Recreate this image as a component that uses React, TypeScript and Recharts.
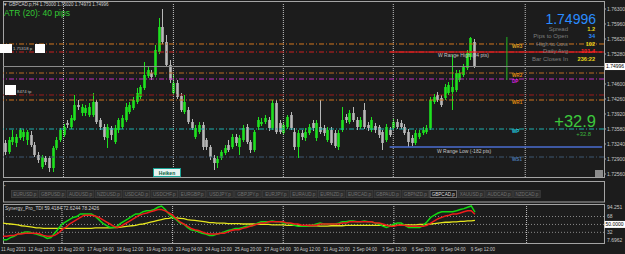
import React from "react";
import { ComposedChart, Bar, Line, XAxis, YAxis, ReferenceLine } from "recharts";

// GBPCAD.p H4 heiken ashi candles, 11 Aug 08:00 .. 9 Sep 16:00
const opens = [
  1.73263, 1.73059, 1.73285, 1.73263, 1.73376, 1.73399, 1.73331, 1.73444, 1.73217, 1.72991,
  1.72719, 1.72923, 1.72923, 1.72696, 1.73149, 1.73331, 1.73444, 1.73716, 1.73625, 1.73784,
  1.74124, 1.73943, 1.73943, 1.73897, 1.73897, 1.74192, 1.73784, 1.73625, 1.73376, 1.73603,
  1.73285, 1.73557, 1.73625, 1.73784, 1.73965, 1.74056, 1.74192, 1.74305, 1.74509, 1.74781,
  1.74849, 1.74804, 1.75325, 1.75892, 1.75552, 1.75031, 1.74396, 1.74623, 1.74328, 1.73965,
  1.74011, 1.73739, 1.73399, 1.73512, 1.73671, 1.73331, 1.73172, 1.72923, 1.72809, 1.72923,
  1.73036, 1.73217, 1.73172, 1.73399, 1.73172, 1.73331, 1.73625, 1.73285, 1.73104, 1.73625,
  1.73693, 1.73739, 1.73784, 1.73603, 1.74169, 1.73716, 1.73489, 1.73625, 1.73897, 1.73512,
  1.73172, 1.73489, 1.73376, 1.73489, 1.73716, 1.73376, 1.73625, 1.73603, 1.73331, 1.73557,
  1.73489, 1.73172, 1.73557, 1.73852, 1.73739, 1.73943, 1.73784, 1.73625, 1.74011, 1.73671,
  1.73557, 1.73648, 1.73625, 1.73512, 1.73331, 1.73557, 1.73603, 1.73739, 1.73716, 1.73625,
  1.73512, 1.73376, 1.73263, 1.73399, 1.73489, 1.73512, 1.73603, 1.74192, 1.74351, 1.74283,
  1.74283, 1.74396, 1.74419, 1.74464, 1.74691, 1.74804, 1.74963, 1.75212, 1.75552,
];
const highs = [
  1.73331, 1.73399, 1.73557, 1.73467, 1.73603, 1.7358, 1.73557, 1.73535, 1.73285, 1.73059,
  1.72991, 1.72968, 1.72968, 1.73195, 1.73399, 1.73603, 1.73693, 1.73784, 1.73897, 1.74351,
  1.74237, 1.74147, 1.74124, 1.74169, 1.74396, 1.74237, 1.73829, 1.73693, 1.73693, 1.73648,
  1.73671, 1.73829, 1.73897, 1.74169, 1.74192, 1.74305, 1.74509, 1.74577, 1.75099, 1.74985,
  1.74917, 1.75484, 1.76096, 1.763, 1.75711, 1.75144, 1.74804, 1.74691, 1.74396, 1.74351,
  1.74079, 1.73807, 1.73671, 1.73739, 1.73739, 1.73376, 1.73217, 1.72991, 1.72968, 1.73104,
  1.73217, 1.73331, 1.73467, 1.73467, 1.73444, 1.73671, 1.73693, 1.73331, 1.73557, 1.73852,
  1.73829, 1.73897, 1.73852, 1.74237, 1.74237, 1.73784, 1.73739, 1.73897, 1.73965, 1.73603,
  1.73557, 1.73557, 1.73603, 1.73693, 1.73784, 1.73784, 1.74237, 1.73671, 1.73625, 1.73625,
  1.73557, 1.73557, 1.74079, 1.7392, 1.74011, 1.74079, 1.73852, 1.73852, 1.74169, 1.73739,
  1.73852, 1.73716, 1.73671, 1.73557, 1.73693, 1.73625, 1.73807, 1.73807, 1.73784, 1.73693,
  1.7358, 1.73444, 1.73557, 1.73557, 1.73625, 1.73671, 1.74305, 1.74373, 1.74419, 1.74351,
  1.746, 1.74645, 1.75257, 1.74917, 1.74917, 1.75053, 1.75371, 1.75665, 1.7562,
];
const lows = [
  1.72991, 1.73013, 1.73217, 1.73172, 1.73331, 1.73308, 1.73217, 1.73172, 1.72945, 1.72809,
  1.72673, 1.72764, 1.72605, 1.72605, 1.73104, 1.73285, 1.73399, 1.73603, 1.7358, 1.73761,
  1.74011, 1.73875, 1.73875, 1.73852, 1.73852, 1.73693, 1.73557, 1.73331, 1.73149, 1.73331,
  1.7324, 1.73489, 1.7358, 1.73739, 1.7392, 1.74011, 1.74147, 1.7426, 1.74464, 1.74736,
  1.74691, 1.74759, 1.7528, 1.75507, 1.74985, 1.74623, 1.74351, 1.7426, 1.73965, 1.7392,
  1.73693, 1.73557, 1.73353, 1.73467, 1.73104, 1.73104, 1.72877, 1.72651, 1.72696, 1.72877,
  1.72991, 1.73059, 1.73127, 1.73195, 1.72991, 1.73285, 1.7324, 1.73036, 1.73059, 1.73557,
  1.73648, 1.73693, 1.73535, 1.73557, 1.73467, 1.73467, 1.73444, 1.7358, 1.73557, 1.73104,
  1.72923, 1.73331, 1.73308, 1.73444, 1.73535, 1.73308, 1.73467, 1.73421, 1.73285, 1.73217,
  1.73149, 1.73104, 1.73512, 1.73716, 1.73693, 1.73739, 1.73557, 1.7358, 1.7358, 1.73535,
  1.73512, 1.73489, 1.73376, 1.73104, 1.73285, 1.73399, 1.73557, 1.7358, 1.7358, 1.73444,
  1.73172, 1.73195, 1.73217, 1.73353, 1.73444, 1.73467, 1.73557, 1.74147, 1.74192, 1.74079,
  1.74237, 1.74351, 1.74011, 1.74419, 1.74645, 1.74759, 1.74917, 1.75144, 1.74963,
];
const closes = [
  1.73059, 1.73331, 1.73399, 1.73399, 1.73557, 1.73512, 1.73512, 1.73217, 1.72991, 1.72877,
  1.72945, 1.72832, 1.72696, 1.73149, 1.73331, 1.73557, 1.73625, 1.73671, 1.73829, 1.74124,
  1.74079, 1.74079, 1.74056, 1.74079, 1.74192, 1.73739, 1.73625, 1.73399, 1.73625, 1.73444,
  1.73603, 1.73784, 1.73829, 1.74079, 1.74124, 1.74237, 1.74396, 1.74532, 1.74804, 1.74917,
  1.74759, 1.75371, 1.75892, 1.75552, 1.75031, 1.74691, 1.74623, 1.74305, 1.74011, 1.74192,
  1.73739, 1.73603, 1.73603, 1.73671, 1.73172, 1.73172, 1.72945, 1.72809, 1.729, 1.73059,
  1.73149, 1.73104, 1.73399, 1.73263, 1.73376, 1.73603, 1.73285, 1.73104, 1.73512, 1.73784,
  1.73739, 1.73829, 1.73603, 1.74169, 1.73512, 1.73512, 1.73671, 1.73852, 1.73603, 1.73172,
  1.73489, 1.73399, 1.73512, 1.73625, 1.73603, 1.73716, 1.73512, 1.73489, 1.73557, 1.73263,
  1.73195, 1.73489, 1.73784, 1.73784, 1.73943, 1.73784, 1.73625, 1.73784, 1.73625, 1.73603,
  1.73784, 1.73557, 1.73444, 1.73263, 1.73625, 1.73444, 1.73739, 1.73625, 1.73625, 1.73489,
  1.73285, 1.73263, 1.73489, 1.73489, 1.73557, 1.73603, 1.74237, 1.74305, 1.74237, 1.74124,
  1.74532, 1.74577, 1.74532, 1.74849, 1.74849, 1.74985, 1.75303, 1.75643, 1.74996,
];

// Synergy_Pro_TDI lines
const tdiPrice = [
  15, 15, 20, 23, 28, 30, 33, 33, 30, 28, 25, 23, 18, 20, 30, 40, 51, 56, 61, 66,
  68, 74, 74, 74, 74, 69, 61, 53, 48, 43, 43, 46, 53, 58, 63, 69, 74, 74, 79, 81,
  81, 84, 89, 92, 84, 74, 66, 61, 53, 51, 43, 38, 36, 33, 30, 28, 25, 25, 28, 30,
  33, 36, 38, 41, 41, 43, 46, 46, 48, 53, 56, 56, 56, 58, 56, 56, 53, 53, 51, 48,
  46, 46, 46, 48, 48, 51, 53, 51, 51, 51, 51, 53, 56, 56, 58, 58, 56, 56, 58, 56,
  56, 53, 51, 46, 43, 46, 51, 53, 53, 48, 43, 43, 43, 43, 48, 56, 66, 71, 76, 79,
  79, 79, 79, 81, 84, 86, 89, 92, 78,
];
const tdiSignal = [
  23, 23, 25, 25, 28, 28, 30, 30, 30, 30, 28, 25, 23, 23, 25, 30, 38, 43, 51, 56,
  61, 66, 71, 71, 71, 69, 66, 61, 56, 51, 46, 43, 46, 51, 56, 61, 66, 71, 74, 76,
  79, 81, 84, 84, 81, 76, 71, 63, 56, 51, 46, 41, 38, 36, 33, 30, 28, 28, 28, 30,
  30, 33, 36, 38, 38, 41, 43, 46, 48, 51, 53, 53, 56, 56, 56, 56, 56, 53, 53, 51,
  51, 48, 48, 48, 48, 48, 51, 51, 51, 51, 51, 51, 53, 53, 56, 56, 56, 56, 56, 56,
  56, 53, 53, 51, 48, 46, 46, 48, 48, 48, 46, 46, 46, 46, 46, 48, 53, 58, 63, 66,
  69, 71, 74, 74, 76, 79, 81, 81, 73,
];
const tdiBase = [
  53, 52, 51, 50, 49, 47, 46, 45, 44, 42, 42, 41, 41, 41, 41, 41, 41, 41, 41, 41,
  41, 41, 41, 41, 41, 42, 42, 42, 42, 42, 43, 43, 44, 45, 46, 47, 48, 50, 51, 53,
  55, 57, 59, 61, 63, 64, 66, 65, 64, 63, 61, 60, 59, 58, 57, 56, 54, 54, 53, 53,
  53, 52, 52, 52, 52, 51, 51, 51, 51, 50, 50, 50, 50, 49, 49, 49, 49, 48, 48, 48,
  48, 47, 47, 47, 47, 47, 46, 46, 46, 47, 47, 47, 47, 48, 48, 48, 48, 48, 48, 48,
  48, 48, 48, 48, 48, 48, 48, 48, 49, 49, 49, 49, 49, 50, 50, 50, 51, 52, 53, 54,
  55, 55, 56, 56, 57, 57, 58, 58, 59,
];

const dateTickIdx = [0, 7, 15, 23, 31, 39, 47, 55, 63, 71, 79, 87, 95, 103, 111, 119, 127];
const dateLabels = [
  "11 Aug 2021", "12 Aug 12:00", "13 Aug 20:00", "17 Aug 04:00", "18 Aug 12:00", "19 Aug 20:00",
  "23 Aug 04:00", "24 Aug 12:00", "25 Aug 20:00", "27 Aug 04:00", "30 Aug 12:00", "31 Aug 20:00",
  "2 Sep 04:00", "3 Sep 12:00", "6 Sep 20:00", "8 Sep 04:00", "9 Sep 12:00",
];

const priceTicks = [1.7256, 1.729, 1.7324, 1.7358, 1.7392, 1.7426, 1.746, 1.7528, 1.7562, 1.7596, 1.763];
const bidPrice = 1.74996;

const pivotValues = [1.75507, 1.74849, 1.74713, 1.74351, 1.74237, 1.7358, 1.72945];
const pivotNames = ["WR3", "WR2", "DP", "", "WR1", "WP", "WS1"];
const rangeHigh = 1.75325;
const rangeLow = 1.73172;
const rangeStartIdx = 105;
const separatorIdx = [16, 46, 76, 106, 142];
const dayMarkIdx = 137;
const dayMark = [1.75665, 1.74691];

const tdiTicks = [94.251, 68, 50, 32, 7.6962];
const tdiLevels = [68, 50, 32];

const symbols = [
  "EURUSD.p", "GBPUSD.p", "AUDUSD.p", "NZDUSD.p", "USDCAD.p", "USDCHF.p", "EURGBP.p",
  "USDJPY.p", "GBPJPY.p", "EURJPY.p", "EURAUD.p", "EURNZD.p", "EURCAD.p", "GBPAUD.p",
  "GBPNZD.p", "GBPCAD.p", "XAUUSD.p", "AUDCAD.p", "NZDCAD.p",
];
const activeSymbol = "GBPCAD.p";

// ---- styles ----
const BG = "#1c1c1c";
const FRAME = "#a4a4a4";
const AXIS_TEXT = "#c8c8c8";
const BULL = "#1ee21e";
const BEAR = "#b8b8b8";
const FONT = "'Liberation Sans', Arial, sans-serif";
const pivotColors = ["#d2751e", "#b86a22", "#c02cc0", "#9c1c1c", "#d2751e", "#1fb0b0", "#3d5670"];
const pivotLabelColors = ["#e0a020", "#e08a10", "#e020e0", "", "#e08a10", "#20d0e0", "#4a78b0"];
const DASHDOT = "5 2 1 2";

const SLOTS = 164;
const MARGIN = { top: 3, right: 0, bottom: 1, left: 3 };

const rows = Array.from({ length: SLOTS }, (_, i) =>
  i < opens.length
    ? { i, o: opens[i], h: highs[i], l: lows[i], c: closes[i], tg: tdiPrice[i], tr: tdiSignal[i], ty: tdiBase[i] }
    : { i }
);

function Candle(props: any) {
  const { x, y, width, height } = props;
  const p = props.payload ?? props;
  if (p.o == null || height == null) return null;
  const k = height / (p.h - p.l || 1e-9);
  const yo = y + (p.h - p.o) * k;
  const yc = y + (p.h - p.c) * k;
  const col = p.c >= p.o ? BULL : BEAR;
  const cx = Math.round(x + width / 2) + 0.5;
  return (
    <g>
      <line x1={cx} x2={cx} y1={y} y2={y + height} stroke={col} strokeWidth={1} />
      <rect x={cx - 1.3} y={Math.min(yo, yc)} width={2.6} height={Math.max(1, Math.abs(yc - yo))} fill={col} />
    </g>
  );
}

function PriceTick({ x, y, payload }: any) {
  return (
    <text x={x} y={y} dy={1.8} fontSize={5} fill={AXIS_TEXT}>
      {Number(payload.value).toFixed(5)}
    </text>
  );
}

function TdiTick({ x, y, payload }: any) {
  const v = payload.value;
  if (v === 50) {
    return (
      <g>
        <rect x={x - 2.5} y={y - 3.5} width={21} height={7} fill="#fff" />
        <text x={x - 1.5} y={y} dy={1.8} fontSize={5} fill="#000">50.0000</text>
      </g>
    );
  }
  const dy = v === tdiTicks[0] ? 4 : v === tdiTicks[tdiTicks.length - 1] ? -1.5 : 1.8;
  return <text x={x} y={y} dy={dy} fontSize={5} fill={AXIS_TEXT}>{String(v)}</text>;
}

function DateTick({ x, y, payload }: any) {
  const k = dateTickIdx.indexOf(payload.value);
  return (
    <text x={k === 0 ? 1 : x - 0.5} y={y + 6} fontSize={4.5} fill={AXIS_TEXT} dominantBaseline="central">
      {dateLabels[k]}
    </text>
  );
}

function separators() {
  return separatorIdx.map((s) => (
    <ReferenceLine key={"sep" + s} x={s} stroke="#c4c4c4" strokeDasharray="1 1" />
  ));
}

function MainChart() {
  return (
    <ComposedChart width={625} height={178} data={rows} margin={MARGIN}>
      <XAxis dataKey="i" hide />
      <YAxis
        orientation="right"
        width={21}
        domain={[1.72492, 1.76436]}
        allowDataOverflow
        ticks={priceTicks}
        interval={0}
        tick={<PriceTick />}
        tickSize={2}
        tickMargin={1}
        axisLine={false}
        tickLine={{ stroke: FRAME }}
      />
      {separators()}
      {pivotValues.map((v, k) => (
        <ReferenceLine
          key={"pv" + k}
          y={v}
          stroke={pivotColors[k]}
          strokeDasharray={DASHDOT}
          label={(lp: any) =>
            pivotNames[k] ? (
              <text x={lp.viewBox.x + 509} y={lp.viewBox.y + 2.5} fontSize={4.6} fontWeight={700} fill={pivotLabelColors[k]} dominantBaseline="central">
                {pivotNames[k]}
              </text>
            ) : null
          }
        />
      ))}
      <ReferenceLine y={rangeHigh} stroke="#c81e1e" strokeDasharray={DASHDOT} />
      <ReferenceLine segment={[{ x: rangeStartIdx, y: rangeHigh }, { x: SLOTS - 1, y: rangeHigh }]} stroke="#ff2222" strokeWidth={1.2} />
      <ReferenceLine segment={[{ x: rangeStartIdx, y: rangeLow }, { x: SLOTS - 1, y: rangeLow }]} stroke="#4a6cd0" strokeWidth={1.6} />
      <ReferenceLine segment={[{ x: dayMarkIdx, y: dayMark[0] }, { x: dayMarkIdx, y: dayMark[1] }]} stroke="#22b422" />
      <ReferenceLine
        y={bidPrice}
        stroke="#8e8e8e"
        label={(lp: any) => (
          <g>
            <rect x={lp.viewBox.x + lp.viewBox.width + 1} y={lp.viewBox.y - 3.5} width={20} height={7} fill="#fff" />
            <text x={lp.viewBox.x + lp.viewBox.width + 2} y={lp.viewBox.y} dy={1.8} fontSize={5} fill="#000">
              {bidPrice.toFixed(5)}
            </text>
          </g>
        )}
      />
      <Bar dataKey={(d: any) => (d.o == null ? null : [d.l, d.h])} shape={<Candle />} isAnimationActive={false} />
    </ComposedChart>
  );
}

function SymbolStrip() {
  return (
    <ComposedChart width={625} height={22} data={rows} margin={{ top: 2, right: 0, bottom: 3, left: 3 }}>
      <XAxis dataKey="i" hide />
      <YAxis
        orientation="right"
        width={21}
        domain={[0, 1]}
        ticks={[0, 1]}
        tick={(t: any) => <text x={t.x} y={t.y} dy={1.8} fontSize={5} fill={AXIS_TEXT}>0</text>}
        tickSize={2}
        tickMargin={1}
        axisLine={false}
        tickLine={false}
      />
      {separators()}
      <Line dataKey="none" isAnimationActive={false} dot={false} />
    </ComposedChart>
  );
}

function TdiChart() {
  return (
    <ComposedChart width={625} height={50} data={rows} margin={{ top: 1, right: 0, bottom: 0, left: 3 }}>
      <XAxis
        dataKey="i"
        height={11}
        ticks={dateTickIdx}
        interval={0}
        tick={<DateTick />}
        tickSize={0}
        tickMargin={0}
        axisLine={false}
        tickLine={false}
      />
      <YAxis
        orientation="right"
        width={21}
        domain={[7.6962, 94.251]}
        allowDataOverflow
        ticks={tdiTicks}
        interval={0}
        tick={<TdiTick />}
        tickSize={2}
        tickMargin={1}
        axisLine={false}
        tickLine={false}
      />
      {separators()}
      {tdiLevels.map((v) => (
        <ReferenceLine key={"tl" + v} y={v} stroke="#8a8a8a" strokeDasharray="1 2" />
      ))}
      <Line dataKey="ty" stroke="#e6e61e" strokeWidth={1.3} dot={false} isAnimationActive={false} />
      <Line dataKey="tg" stroke="#12d812" strokeWidth={1.5} dot={false} isAnimationActive={false} />
      <Line dataKey="tr" stroke="#ee1c1c" strokeWidth={1.5} dot={false} isAnimationActive={false} />
    </ComposedChart>
  );
}

function Txt({ x, y, size, color, end, mid, bold, children }: any) {
  return (
    <text x={x} y={y} fontSize={size} fill={color} textAnchor={end ? "end" : mid ? "middle" : "start"} dominantBaseline="central" fontWeight={bold ? 700 : 400}>
      {children}
    </text>
  );
}

const infoRows = [
  { label: "Spread", value: "1.2", color: "#e8d81a" },
  { label: "Pips to Open", value: "34", color: "#2a8cff" },
  { label: "High to Low", value: "102", color: "#e8d81a" },
  { label: "Daily Avg", value: "101.4", color: "#ff2424" },
  { label: "Bar Closes In", value: "236:22", color: "#e8d81a" },
];

export default function App() {
  const abs = (top: number): React.CSSProperties => ({ position: "absolute", left: 0, top });
  return (
    <div style={{ position: "absolute", left: 0, top: 0, width: 625, height: 254, background: BG, overflow: "hidden", fontFamily: FONT }}>
      <svg width={625} height={254} style={abs(0)}>
        <rect x={3.5} y={1.5} width={601} height={176} fill="none" stroke={FRAME} />
        <rect x={3.5} y={181.5} width={601} height={20.5} fill="none" stroke={FRAME} />
        <rect x={3.5} y={204.5} width={601} height={39} fill="none" stroke={FRAME} />
      </svg>
      <div style={abs(0)}><MainChart /></div>
      <div style={abs(181)}><SymbolStrip /></div>
      <div style={abs(204)}><TdiChart /></div>
      <svg width={625} height={254} style={{ ...abs(0), pointerEvents: "none" }}>
        <Txt x={3} y={4.5} size={4.5} color="#d0d0d0">▼ GBPCAD.p,H4 1.75000 1.75020 1.74973 1.74996</Txt>
        <Txt x={4} y={12.5} size={8.5} color="#34c834">ATR (20): 40 pips</Txt>

        <rect x={0} y={44} width={12} height={9} fill="#fff" />
        <Txt x={13} y={48.5} size={4.3} color="#bdbdbd">1.75318 p</Txt>
        <rect x={35} y={44} width={10} height={9} fill="#fff" />
        <rect x={5} y={85} width={11} height={10} fill="#fff" />
        <Txt x={17} y={91} size={4.3} color="#bdbdbd">8474 tp</Txt>

        <rect x={153.5} y={168.5} width={27} height={8} fill="#e6f4f2" stroke="#1aa396" />
        <Txt x={167} y={172.6} size={5} color="#0b5e3e" bold mid>Heiken</Txt>
        <rect x={595} y={170} width={8} height={7} fill="#8c8c8c" />

        <Txt x={438} y={54.5} size={5} color="#c4c4c4">W Range High (84 pts)</Txt>
        <Txt x={437} y={150.5} size={5} color="#c4c4c4">W Range Low (-182 pts)</Txt>

        <Txt x={596} y={19} size={14} color="#2a8cff" end>1.74996</Txt>
        {infoRows.map((r, k) => (
          <g key={r.label}>
            <Txt x={568} y={29 + k * 7.4} size={6} color="#7c7c7c" end>{r.label}</Txt>
            <Txt x={595} y={29 + k * 7.4} size={5.6} color={r.color} end bold>{r.value}</Txt>
          </g>
        ))}
        <Txt x={596} y={120.5} size={16.5} color="#3cc83c" end>+32.9</Txt>
        <Txt x={591} y={133.5} size={5.8} color="#3cb43c" end>+32.8</Txt>

        <Txt x={4} y={185.5} size={4.5} color="#9a9a9a">▪</Txt>
        {symbols.map((s, k) => {
          const bx = 11 + k * 27.9;
          const on = s === activeSymbol;
          return (
            <g key={s}>
              <rect x={bx + 0.5} y={190.5} width={26.5} height={7} fill={on ? "#1a1a1a" : "#2d2d2d"} stroke={on ? "#6a6a6a" : "#3c3c3c"} />
              <text x={bx + 13.75} y={194.2} fontSize={4.6} textAnchor="middle" dominantBaseline="central" fill={on ? "#dcdcdc" : "#707070"}>{s}</text>
            </g>
          );
        })}

        <Txt x={5} y={208} size={4.8} color="#cfcfcf">Synergy_Pro_TDI 59.4184 72.6244 78.2426</Txt>
      </svg>
    </div>
  );
}
